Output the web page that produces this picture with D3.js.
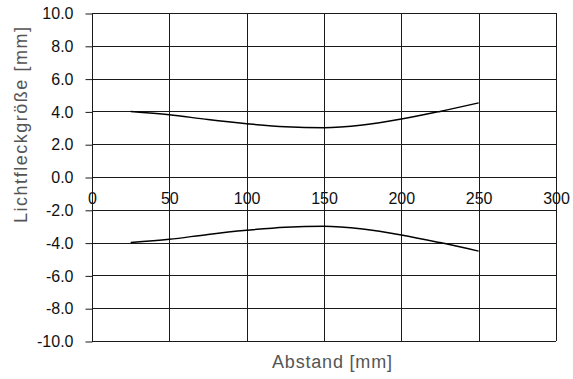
<!DOCTYPE html>
<html>
<head>
<meta charset="utf-8">
<script src="https://cdn.jsdelivr.net/npm/d3@7"></script>
<style>
  body { margin: 0; background: #fff; }
  text { font-family: "Liberation Sans", Arial, sans-serif; }
</style>
</head>
<body>
<div id="chart"></div>
<script>
// data
var distances = [25, 50, 75, 100, 125, 150, 175, 200, 225, 250];
var upperSpot = [4.0, 3.8, 3.5, 3.25, 3.06, 3.0, 3.17, 3.53, 4.0, 4.52];
var lowerSpot = [-4.0, -3.8, -3.5, -3.25, -3.06, -3.0, -3.17, -3.53, -4.0, -4.52];
var xTicks = [0, 50, 100, 150, 200, 250, 300];
var yTicks = [-10, -8, -6, -4, -2, 0, 2, 4, 6, 8, 10];

var svgWidth = 573;
var svgHeight = 379;

var margin = {top: 13, right: 17, bottom: 38, left: 92};
var chartWidth = svgWidth - margin.left - margin.right;
var chartHeight = svgHeight - margin.top - margin.bottom;

var svg = d3.select("#chart").append("svg")
    .attr("width", svgWidth)
    .attr("height", svgHeight);

var chartGroup = svg.append("g")
    .attr("transform", `translate(${margin.left}, ${margin.top})`);

var xScale = d3.scaleLinear().domain([0, 300]).range([0, chartWidth]);
var yScale = d3.scaleLinear().domain([-10, 10]).range([chartHeight, 0]);

// snap to pixel centre so 1px lines stay crisp
var px = v => Math.round(v) + 0.5;

// horizontal grid
chartGroup.append("g").selectAll("line")
    .data(yTicks)
    .enter()
    .append("line")
    .attr("x1", 0)
    .attr("x2", chartWidth)
    .attr("y1", d => px(yScale(d)))
    .attr("y2", d => px(yScale(d)))
    .attr("stroke", "#1a1a1a")
    .attr("stroke-width", 1);

// vertical grid
chartGroup.append("g").selectAll("line")
    .data(xTicks)
    .enter()
    .append("line")
    .attr("x1", d => px(xScale(d)))
    .attr("x2", d => px(xScale(d)))
    .attr("y1", 0)
    .attr("y2", chartHeight)
    .attr("stroke", "#1a1a1a")
    .attr("stroke-width", 1);

// y axis with small ticks on the left, plain hyphen for minus
var yAxis = d3.axisLeft(yScale)
    .tickValues(yTicks)
    .tickSize(7)
    .tickPadding(12)
    .tickFormat(d => d.toFixed(1));

var yAxisGroup = chartGroup.append("g")
    .attr("transform", "translate(0.5, 0.5)")
    .call(yAxis);
yAxisGroup.select(".domain").remove();
yAxisGroup.selectAll(".tick line").attr("stroke", "#1a1a1a");
yAxisGroup.selectAll(".tick text")
    .style("font-size", "16px")
    .attr("fill", "#111");

// x tick labels sit just under the zero line
chartGroup.append("g").selectAll("text")
    .data(xTicks)
    .enter()
    .append("text")
    .attr("x", d => xScale(d) + 0.5)
    .attr("y", yScale(0) + 27)
    .attr("text-anchor", "middle")
    .style("font-size", "16px")
    .attr("fill", "#111")
    .text(d => d);

// curves
var line = d3.line()
    .x((d, i) => xScale(distances[i]))
    .y(d => yScale(d))
    .curve(d3.curveMonotoneX);

[upperSpot, lowerSpot].forEach(function(series) {
    chartGroup.append("path")
        .datum(series)
        .attr("d", line)
        .attr("fill", "none")
        .attr("stroke", "#000")
        .attr("stroke-width", 1.5);
});

// y-axis label
svg.append("text")
    .attr("transform", "translate(27, 125) rotate(-90)")
    .attr("text-anchor", "middle")
    .attr("textLength", 196)
    .attr("lengthAdjust", "spacing")
    .style("font-size", "18px")
    .attr("fill", "#555")
    .text("Lichtfleckgröße [mm]");

// x-axis label
svg.append("text")
    .attr("x", 332)
    .attr("y", 368)
    .attr("text-anchor", "middle")
    .attr("textLength", 120)
    .attr("lengthAdjust", "spacing")
    .style("font-size", "18px")
    .attr("fill", "#555")
    .text("Abstand [mm]");
</script>
</body>
</html>
